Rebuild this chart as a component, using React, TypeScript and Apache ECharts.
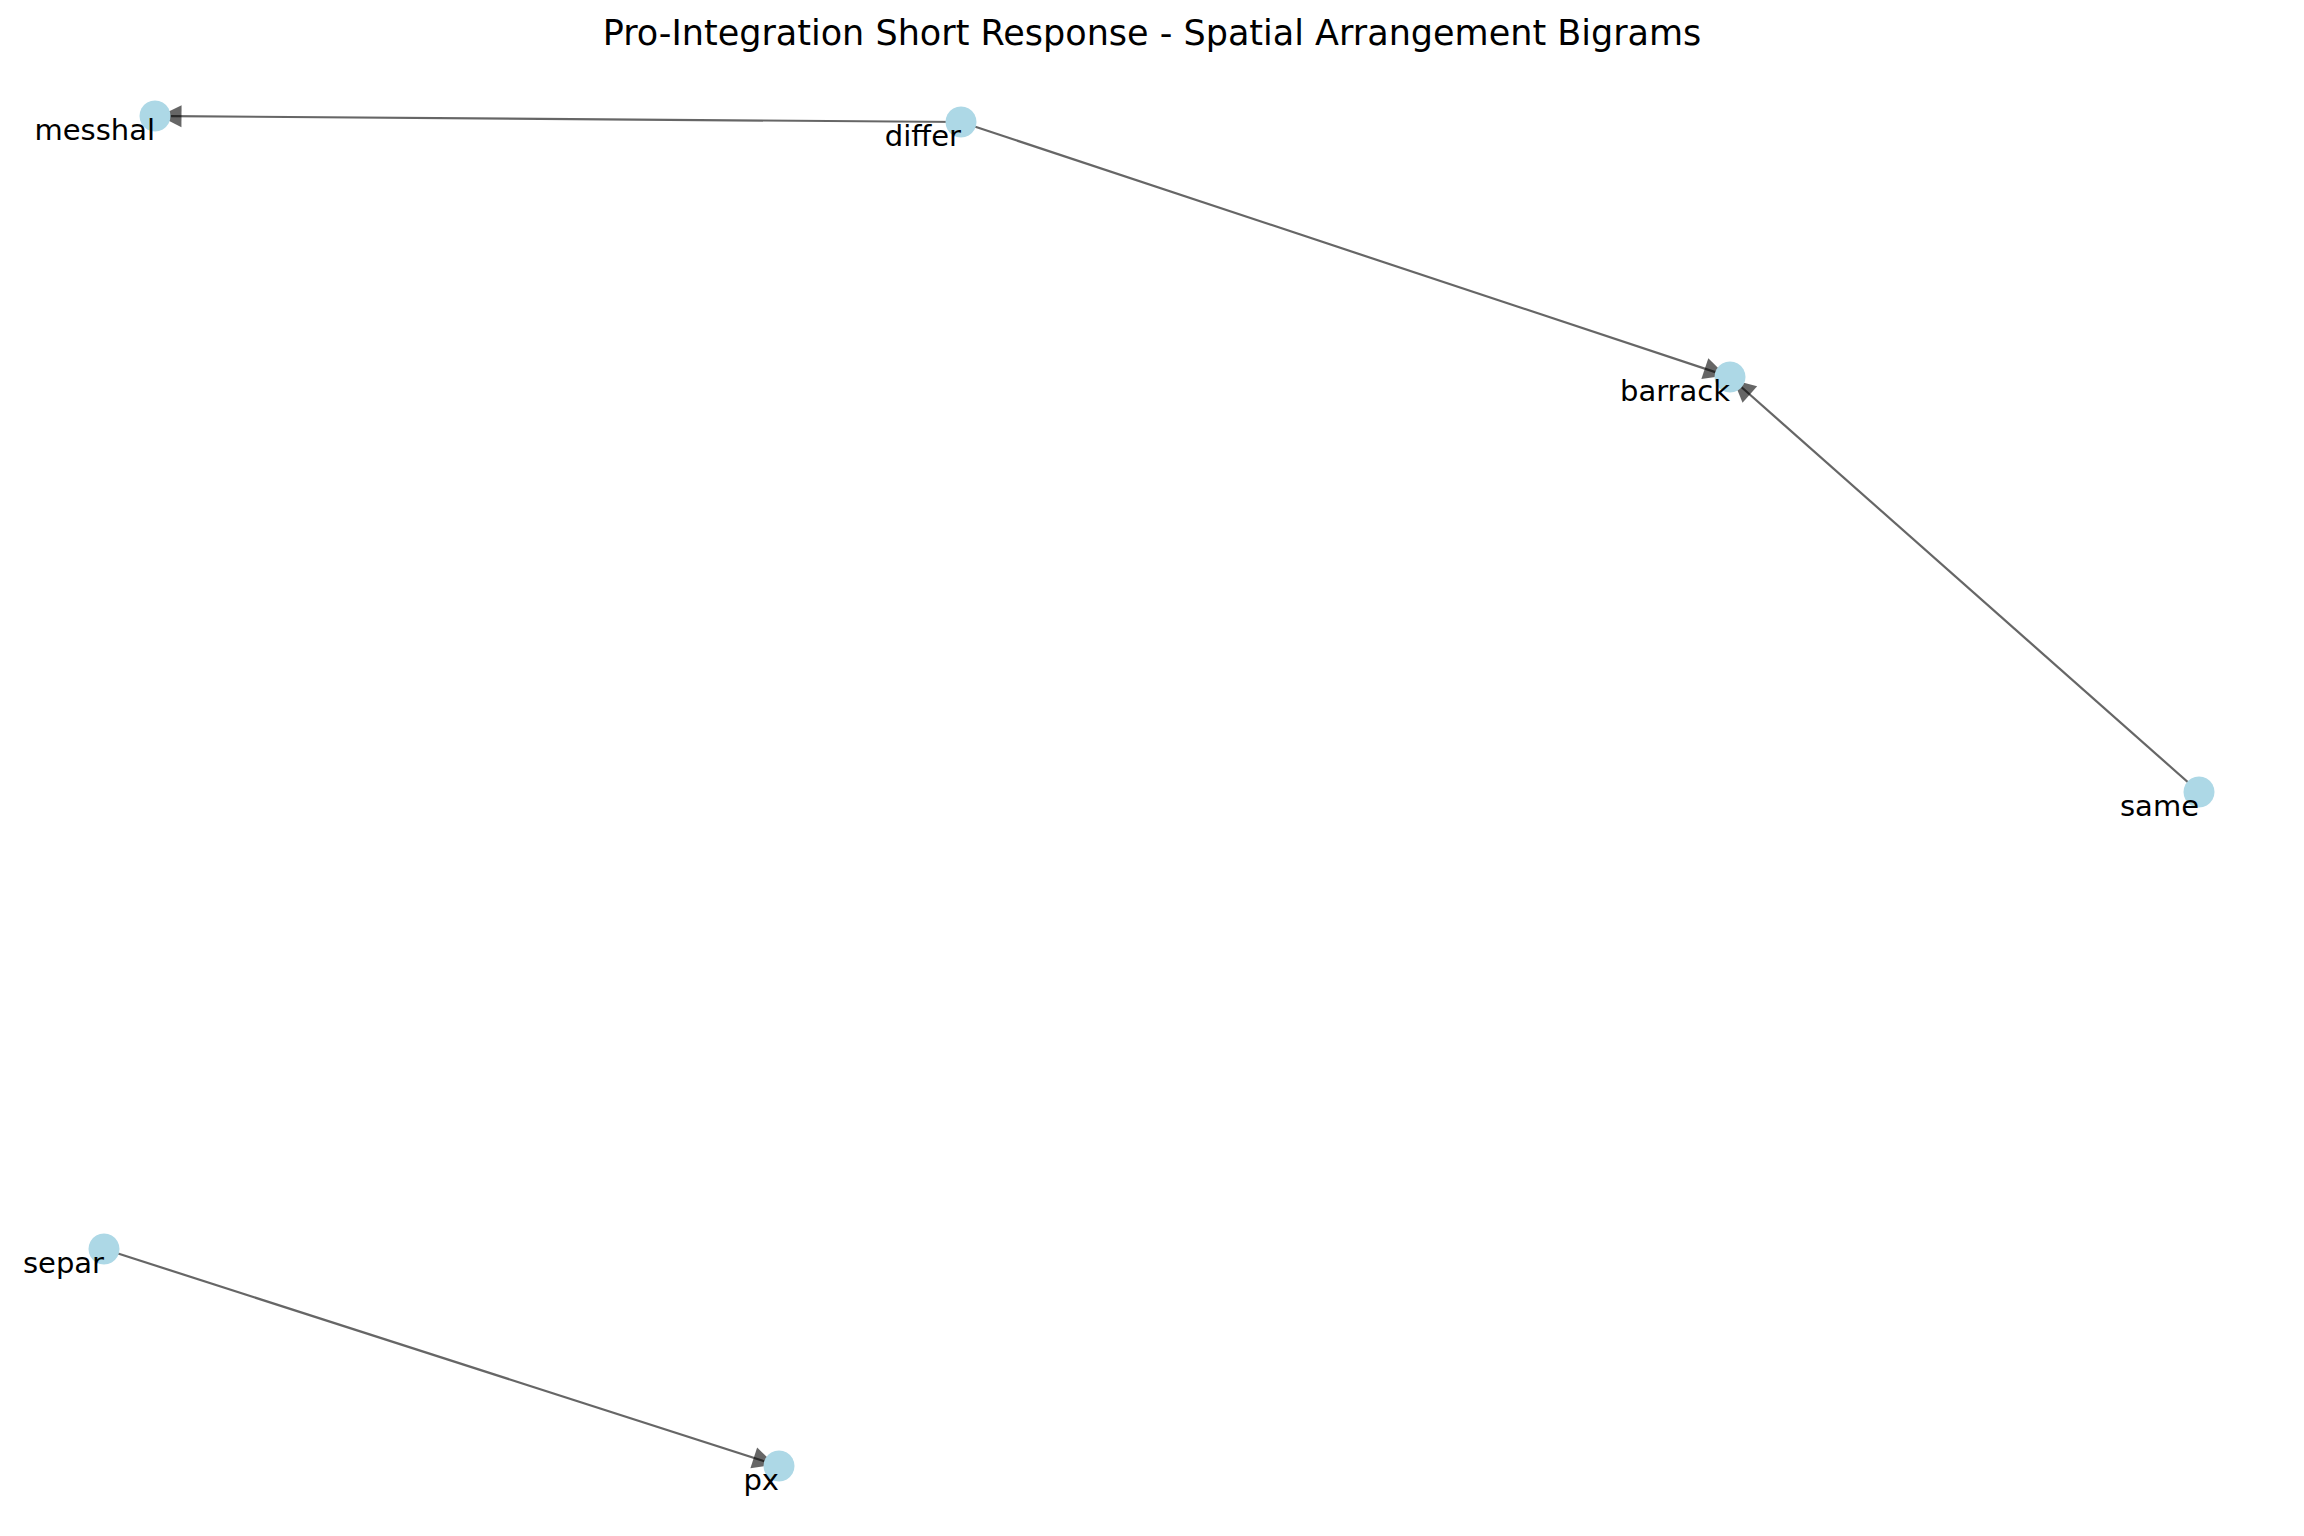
import * as echarts from "echarts";
import { useEffect, useRef } from "react";

const nodeNames = ["messhal", "differ", "barrack", "same", "separ", "px"];
const nodeX = [155, 961, 1730, 2199, 104, 779];
const nodeY = [116, 122, 377, 792, 1249, 1466];
const edgeSources = ["differ", "differ", "same", "separ"];
const edgeTargets = ["messhal", "barrack", "barrack", "px"];

export default function App() {
  const ref = useRef<HTMLDivElement | null>(null);

  useEffect(() => {
    if (!ref.current) return;
    const chart = echarts.init(ref.current, null, { renderer: "svg" });
    chart.setOption({
      animation: false,
      backgroundColor: "#ffffff",
      title: {
        text: "Pro-Integration Short Response - Spatial Arrangement Bigrams",
        left: "center",
        top: 10,
        textStyle: { fontFamily: "DejaVu Sans", fontSize: 35, fontWeight: "normal", color: "#000" },
      },
      grid: { left: 0, right: 0, top: 0, bottom: 0 },
      xAxis: { type: "value", min: 0, max: 2304, show: false },
      yAxis: { type: "value", min: 0, max: 1536, inverse: true, show: false },
      series: [
        {
          type: "graph",
          coordinateSystem: "cartesian2d",
          layout: "none",
          symbolSize: 31,
          itemStyle: { color: "#add8e6" },
          label: {
            show: true,
            position: "inside",
            align: "right",
            verticalAlign: "middle",
            offset: [0, 14],
            fontFamily: "DejaVu Sans",
            fontSize: 29,
            color: "#000",
          },
          edgeSymbol: ["none", "triangle"],
          edgeSymbolSize: [0, 22],
          lineStyle: { color: "#000", opacity: 0.6, width: 2.2, curveness: 0 },
          data: nodeNames.map((n, i) => ({ name: n, value: [nodeX[i], nodeY[i]] })),
          links: edgeSources.map((s, i) => ({ source: s, target: edgeTargets[i] })),
          z: 2,
        },
      ],
    });
    return () => chart.dispose();
  }, []);

  return (
    <div
      ref={ref}
      style={{ position: "absolute", left: 0, top: 0, width: 2304, height: 1536 }}
    />
  );
}
